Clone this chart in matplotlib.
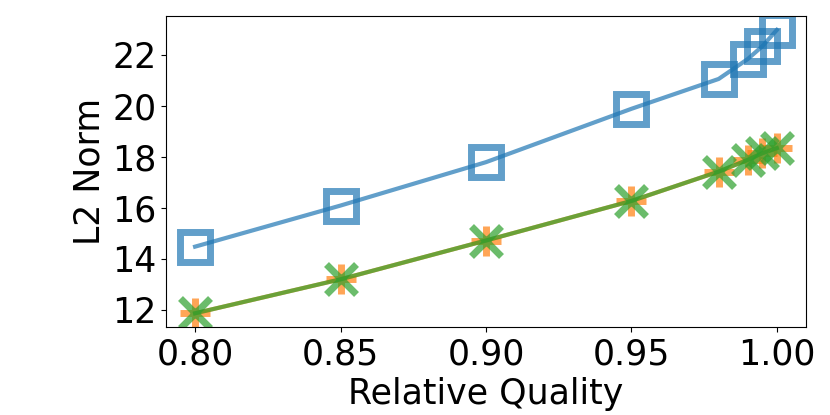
import numpy as np
import matplotlib
matplotlib.use("Agg")
import matplotlib.pyplot as plt

quality = [0.80, 0.85, 0.90, 0.95, 0.98, 0.99, 0.995, 1.00]
norm_a = [14.48, 16.09, 17.79, 19.88, 21.05, 21.83, 22.33, 22.97]
norm_b = [11.87, 13.20, 14.72, 16.27, 17.42, 17.88, 18.14, 18.34]
norm_c = [11.87, 13.20, 14.72, 16.27, 17.42, 17.88, 18.14, 18.34]

plt.rcParams["font.size"] = 25

fig = plt.figure(figsize=(8.3, 4.15), dpi=100)
ax = fig.add_axes([0.2, 0.211, 0.771, 0.751])

style = dict(ms=22, mew=5, lw=3, alpha=0.7, fillstyle="none")
ax.plot(quality, norm_a, marker="s", color="C0", **style)
ax.plot(quality, norm_b, marker="+", color="C1", **style)
ax.plot(quality, norm_c, marker="x", color="C2", **style)

ax.set_xticks([0.80, 0.85, 0.90, 0.95, 1.00])
ax.set_yticks([12, 14, 16, 18, 20, 22])
ax.set_xlabel("Relative Quality")
ax.set_ylabel("L2 Norm")

fig.savefig("out.png", dpi=100)
